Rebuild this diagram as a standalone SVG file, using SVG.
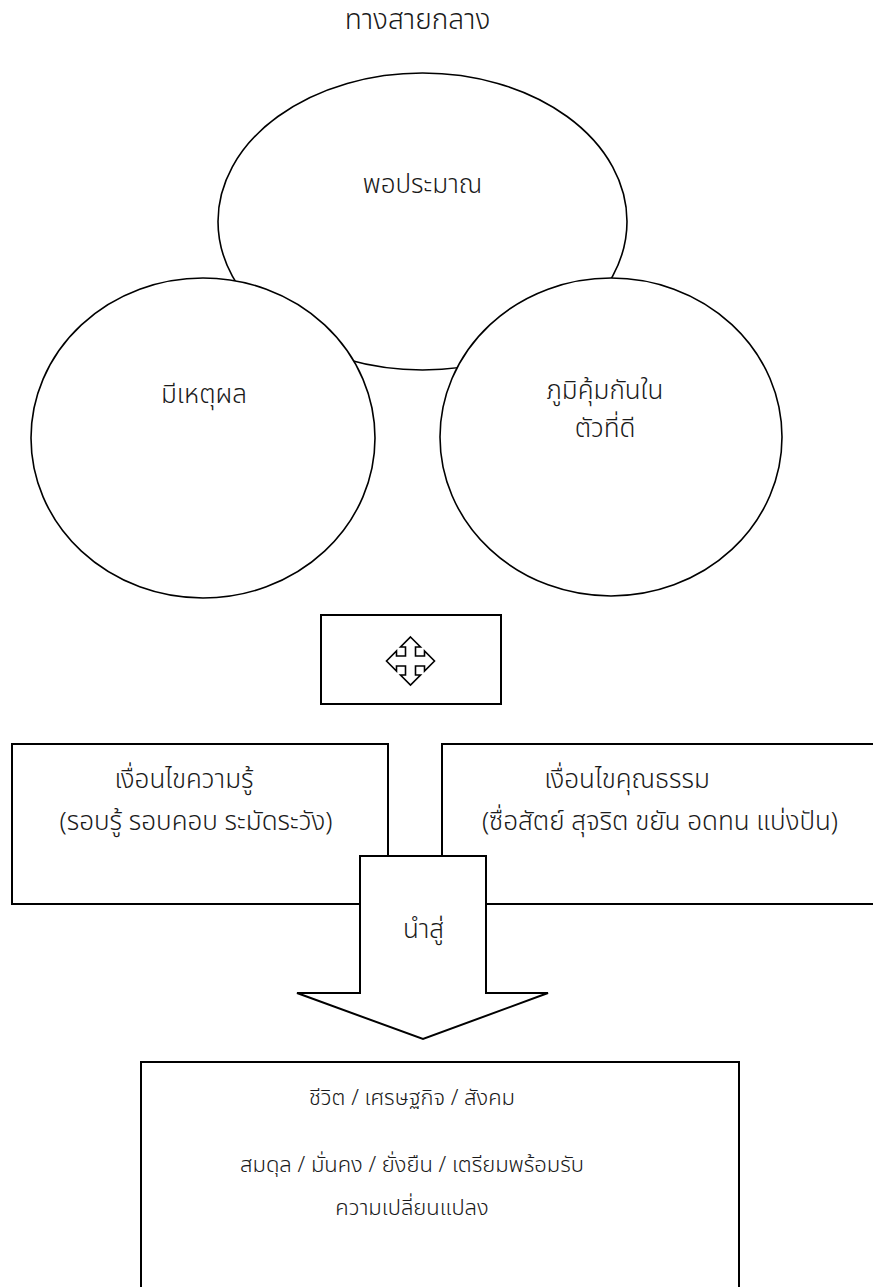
<svg xmlns="http://www.w3.org/2000/svg" width="873" height="1287" viewBox="0 0 873 1287">
<style>
text{font-family:"Noto Sans Thai","Noto Sans Thai Looped","Noto Sans","DejaVu Sans",sans-serif;font-size:26px;font-weight:300;fill:#1a1a1a;text-anchor:middle}
.title{font-size:28px}
.small{font-size:22px}
.ell{fill:#fff;stroke:#000;stroke-width:1.6}
.box{fill:#fff;stroke:#000;stroke-width:2}
</style>
<rect width="873" height="1287" fill="#fff"/>
<text class="title" x="417.5" y="29">ทางสายกลาง</text>
<g id="node-top">
<ellipse class="ell" cx="422.5" cy="221.5" rx="204.5" ry="148.5"/>
<text x="422.5" y="193">พอประมาณ</text>
</g>
<g id="node-left">
<ellipse class="ell" cx="203" cy="438" rx="172" ry="160"/>
<text x="204" y="403">มีเหตุผล</text>
</g>
<g id="node-right">
<ellipse class="ell" cx="611" cy="437" rx="171" ry="159"/>
<text x="605" y="399">ภูมิคุ้มกันใน</text>
<text x="605" y="437">ตัวที่ดี</text>
</g>
<g id="node-move">
<rect class="box" x="321" y="615" width="180" height="89"/>
<path fill="#fff" stroke="#000" stroke-width="1.6" stroke-linejoin="miter" transform="translate(410.5 661)" d="M0,-24 L10,-14 L5,-14 L5,-5 L14,-5 L14,-10 L24,0 L14,10 L14,5 L5,5 L5,14 L10,14 L0,24 L-10,14 L-5,14 L-5,5 L-14,5 L-14,10 L-24,0 L-14,-10 L-14,-5 L-5,-5 L-5,-14 L-10,-14 Z"/>
</g>
<g id="node-knowledge">
<rect class="box" x="12" y="744" width="376" height="160"/>
<text x="184" y="788">เงื่อนไขความรู้</text>
<text x="196" y="830">(รอบรู้ รอบคอบ ระมัดระวัง)</text>
</g>
<g id="node-moral">
<rect class="box" x="442" y="744" width="440" height="160"/>
<text x="627" y="788">เงื่อนไขคุณธรรม</text>
<text x="660" y="830">(ซื่อสัตย์ สุจริต ขยัน อดทน แบ่งปัน)</text>
</g>
<g id="connectors">
<path class="box" d="M360,856 L486,856 L486,993 L548,993 L423,1039 L297,993 L360,993 Z"/>
<text x="423.5" y="938">นำสู่</text>
</g>
<g id="node-result">
<rect class="box" x="141" y="1062" width="598" height="240"/>
<text class="small" x="412" y="1105">ชีวิต / เศรษฐกิจ / สังคม</text>
<text class="small" x="412" y="1172">สมดุล / มั่นคง / ยั่งยืน / เตรียมพร้อมรับ</text>
<text class="small" x="412" y="1215">ความเปลี่ยนแปลง</text>
</g>
</svg>
